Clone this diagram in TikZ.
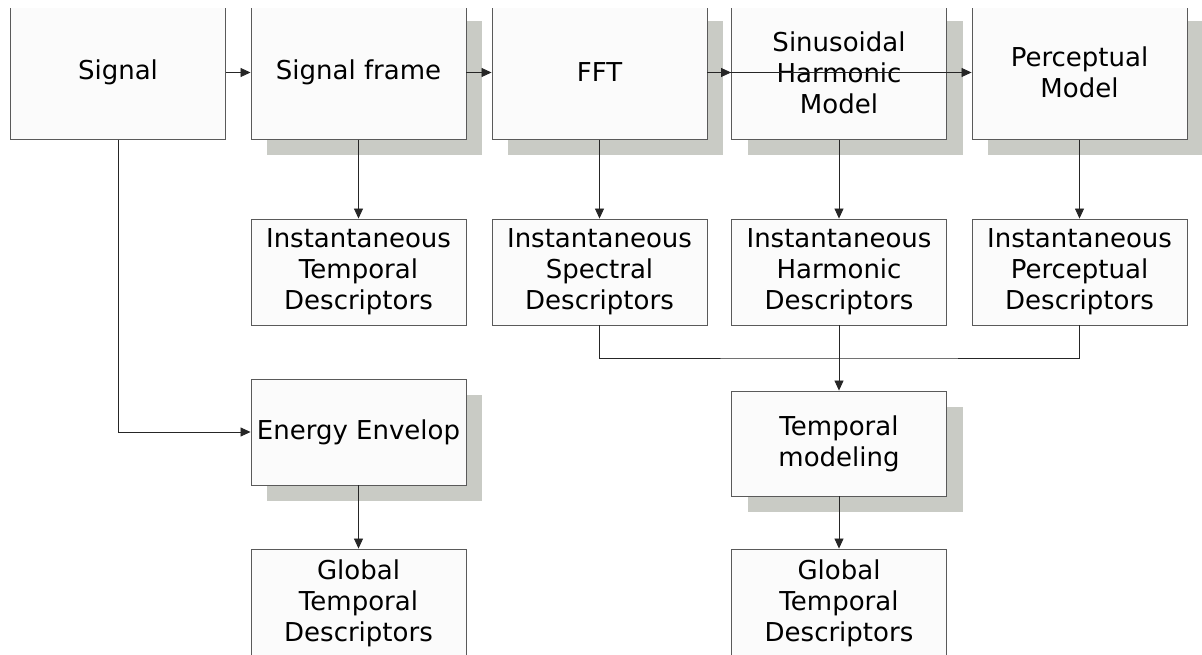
\documentclass[tikz,border=0pt]{standalone}
\usepackage{fontspec}
\setmainfont{DejaVu Sans}
\usetikzlibrary{shadows,arrows.meta}
\definecolor{boxfill}{HTML}{FBFBFB}
\definecolor{boxline}{HTML}{5A5A5A}
\definecolor{shadowgray}{HTML}{C9CBC5}
\tikzset{
  block/.style={draw=boxline, line width=0.9pt, fill=boxfill, align=center,
    minimum width=215pt, inner sep=0pt,
    font=\fontsize{26}{31}\selectfont},
  shaded/.style={drop shadow={shadow xshift=16pt, shadow yshift=-16pt,
    fill=shadowgray, opacity=1}},
  link/.style={draw=black!85, line width=0.8pt},
  >={Triangle[length=10pt,width=9pt]}
}
\begin{document}
\begin{tikzpicture}[x=1pt, y=-1pt]
  \useasboundingbox (0,0) rectangle (1202,655);
  \clip (0,8.5) rectangle (1202,655);
  % top row
  \node[block, minimum height=134pt] (signal) at (118,72.5) {Signal};
  \node[block, shaded, minimum height=134pt] (frame) at (358.5,72.5) {Signal frame};
  \node[block, shaded, minimum height=134pt] (fft) at (599.5,72.5) {FFT};
  \node[block, shaded, minimum height=134pt] (sinus) at (839,72.5) {Sinusoidal\\Harmonic\\Model};
  \node[block, shaded, minimum height=134pt] (percep) at (1079.5,72.5) {Perceptual\\Model};
  % instantaneous descriptors
  \node[block, minimum height=106pt] (itd) at (358.5,272) {Instantaneous\\Temporal\\Descriptors};
  \node[block, minimum height=106pt] (isd) at (599.5,272) {Instantaneous\\Spectral\\Descriptors};
  \node[block, minimum height=106pt] (ihd) at (839,272) {Instantaneous\\Harmonic\\Descriptors};
  \node[block, minimum height=106pt] (ipd) at (1079.5,272) {Instantaneous\\Perceptual\\Descriptors};
  % global part
  \node[block, shaded, minimum height=106pt] (energy) at (358.5,432) {Energy Envelop};
  \node[block, shaded, minimum height=105pt] (tmodel) at (839,443.5) {Temporal\\modeling};
  \node[block, minimum height=108pt] (gtdleft) at (358.5,603) {Global\\Temporal\\Descriptors};
  \node[block, minimum height=108pt] (gtdright) at (839,603) {Global\\Temporal\\Descriptors};
  \coordinate (join) at (839,358);

  \draw[link,->] (signal.east) -- (frame.west);
  \draw[link,->] (frame.east) -- (fft.west);
  \draw[link,->] (fft.east) -- (sinus.west);
  \draw[link,->] (fft.east) -- (percep.west);
  \draw[link,->] (frame.south) -- (itd.north);
  \draw[link,->] (fft.south) -- (isd.north);
  \draw[link,->] (sinus.south) -- (ihd.north);
  \draw[link,->] (percep.south) -- (ipd.north);
  \draw[link,->] (signal.south) |- (energy.west);
  \draw[link,->] (energy.south) -- (gtdleft.north);
  \draw[link] (isd.south) |- (join) -| (ipd.south);
  \draw[link,->] (ihd.south) -- (tmodel.north);
  \draw[link,->] (tmodel.south) -- (gtdright.north);
\end{tikzpicture}
\end{document}
